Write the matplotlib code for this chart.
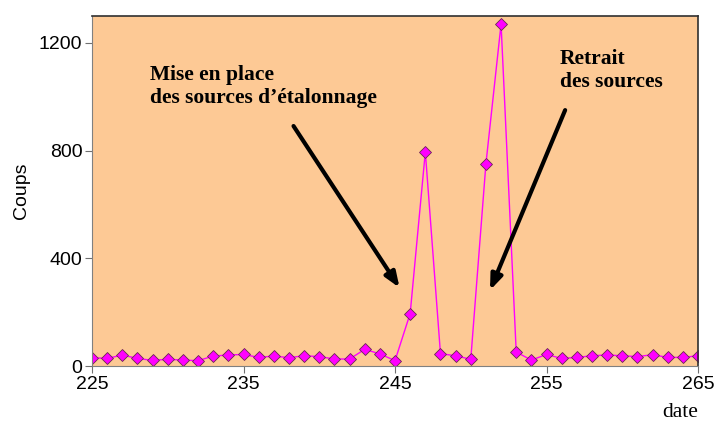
import matplotlib.pyplot as plt

# daily counts, days 225..265
days = list(range(225, 266))
coups = [31, 28, 41, 28, 21, 25, 22, 20, 37, 41,
         43, 32, 37, 31, 38, 35, 26, 26, 62, 45,
         20, 195, 795, 46, 38, 25, 751, 1270, 52, 22,
         43, 28, 32, 38, 41, 38, 35, 42, 32, 32,
         38]

x_ticks = [225, 235, 245, 255, 265]
y_ticks = [0, 400, 800, 1200]

fig = plt.figure(figsize=(7.14, 4.26), dpi=100)
ax = fig.add_axes([0.1289, 0.1408, 0.8487, 0.8216])
ax.set_facecolor("#FDC995")

ax.plot(days, coups, color="#FF00FF", lw=1.0, marker="D", markersize=6.5,
        markerfacecolor="#FF00FF", markeredgecolor="#6a2a50", markeredgewidth=0.6)

ax.set_xlim(225, 265)
ax.set_ylim(0, 1300)
ax.set_xticks(x_ticks)
ax.set_yticks(y_ticks)
ax.tick_params(labelsize=14, length=5, color="#707070", pad=2)
for lab in ax.get_xticklabels() + ax.get_yticklabels():
    lab.set_family("Liberation Sans")

for side in ("left", "bottom"):
    ax.spines[side].set_color("#808080")
for side in ("top", "right"):
    ax.spines[side].set_color("#303030")
    ax.spines[side].set_linewidth(1.2)

ax.set_ylabel("Coups", fontsize=14, family="Liberation Sans", labelpad=6)
fig.text(0.9525, 0.031, "date", fontsize=15.5, family="Liberation Serif", ha="center", va="center")

# annotations with arrows
bold = dict(fontsize=15.5, family="Liberation Serif", fontweight="bold", va="top", ha="left")
ax.text(0.095, 0.86, "Mise en place\ndes sources d\u2019\u00e9talonnage", transform=ax.transAxes,
        linespacing=1.2, **bold)
ax.text(0.772, 0.905, "Retrait\ndes sources", transform=ax.transAxes, linespacing=1.2, **bold)

arrow = dict(arrowstyle="-|>,head_length=0.9,head_width=0.35", color="black", lw=3)
ax.annotate("", xy=(245.4, 282), xytext=(238.2, 900), arrowprops=arrow)
ax.annotate("", xy=(251.2, 272), xytext=(256.3, 960), arrowprops=arrow)

fig.savefig("out.png", dpi=100)
